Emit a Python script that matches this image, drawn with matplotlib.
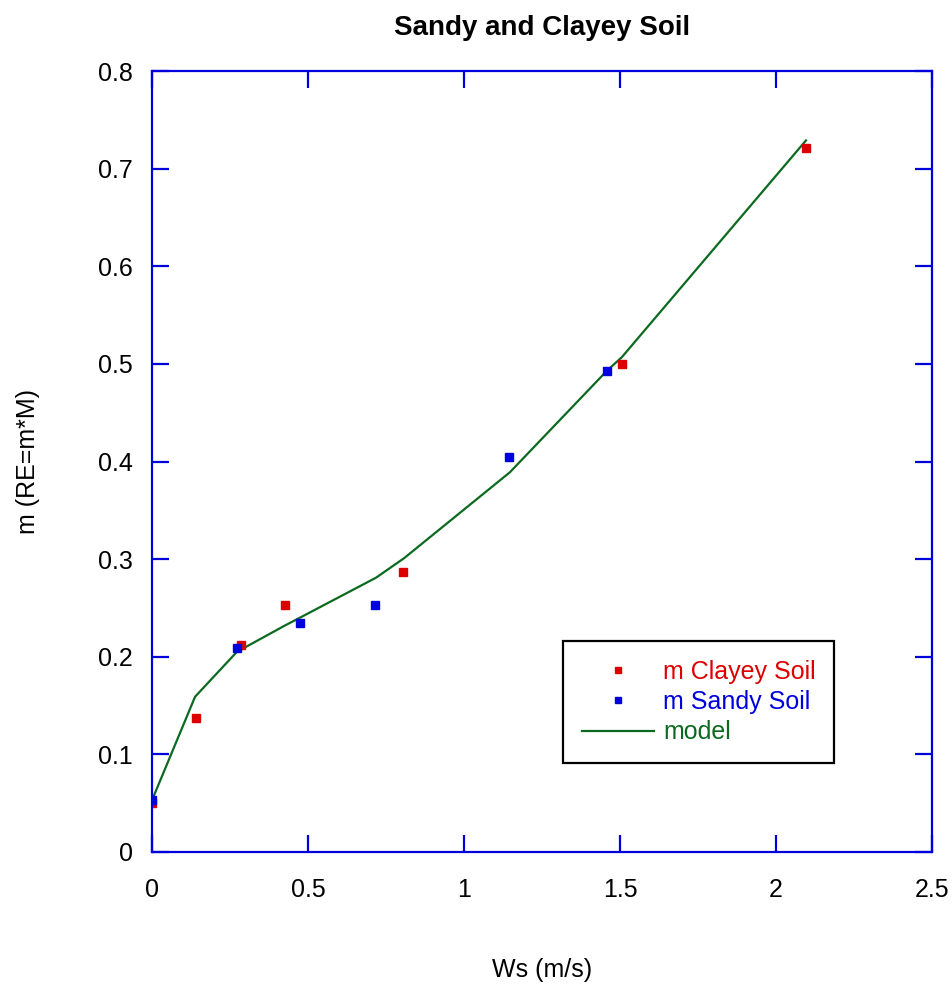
import matplotlib.pyplot as plt

plt.rcParams['font.family'] = ['Liberation Sans', 'DejaVu Sans']

ws_clayey = [0.0, 0.141, 0.285, 0.426, 0.804, 1.506, 2.096]
m_clayey = [0.050, 0.137, 0.212, 0.253, 0.287, 0.500, 0.721]
ws_sandy = [0.0, 0.272, 0.474, 0.715, 1.144, 1.458]
m_sandy = [0.053, 0.209, 0.235, 0.253, 0.405, 0.493]
ws_model = [0.0, 0.138, 0.272, 0.426, 0.474, 0.718, 0.808, 1.147, 1.458, 1.506, 2.096]
m_model = [0.053, 0.159, 0.205, 0.232, 0.240, 0.281, 0.301, 0.389, 0.493, 0.507, 0.729]

axcol = '#0000dd'
red = '#dd0000'
blue = '#0000dd'
green = '#0b6a20'

fig = plt.figure(figsize=(9.53, 9.88), dpi=100)
ax = fig.add_axes([0.1595, 0.1377, 0.8185, 0.7903])

ax.plot(ws_model, m_model, color=green, lw=1.6, label='model')
ax.plot(ws_clayey, m_clayey, 's', color=red, ms=5.8, mec=red, label='m Clayey Soil')
ax.plot(ws_sandy, m_sandy, 's', color=blue, ms=5.8, mec=blue, label='m Sandy Soil')

ax.set_xlim(0, 2.5)
ax.set_ylim(0, 0.8)
ax.set_xticks([0, 0.5, 1, 1.5, 2, 2.5])
ax.set_xticklabels(['0', '0.5', '1', '1.5', '2', '2.5'])
ax.set_yticks([0, 0.1, 0.2, 0.3, 0.4, 0.5, 0.6, 0.7, 0.8])
ax.set_yticklabels(['0', '0.1', '0.2', '0.3', '0.4', '0.5', '0.6', '0.7', '0.8'])

for s in ax.spines.values():
    s.set_color(axcol)
    s.set_linewidth(1.6)
ax.tick_params(direction='in', length=12, width=1.6, color=axcol, labelsize=18,
               top=True, right=True)
ax.tick_params(axis='x', pad=19)
ax.tick_params(axis='y', pad=14)

ax.set_title('Sandy and Clayey Soil', fontsize=20, fontweight='bold', pad=26)
ax.set_xlabel('Ws (m/s)', fontsize=18, va='center')
ax.xaxis.set_label_coords(0.5, -0.151)
ax.set_ylabel('m (RE=m*M)', fontsize=18, va='center')
ax.yaxis.set_label_coords(-0.159, 0.5)

handles, labels = ax.get_legend_handles_labels()
order = [1, 2, 0]
leg = ax.legend([handles[i] for i in order], [labels[i] for i in order],
                loc='upper left', bbox_to_anchor=(0.527, 0.270),
                fontsize=18, fancybox=False, framealpha=1, edgecolor='black',
                handlelength=2.9, handletextpad=0.35, borderpad=0.75,
                labelspacing=0.25, borderaxespad=0, markerscale=0.75)
leg.get_frame().set_linewidth(1.6)
for t, c in zip(leg.get_texts(), [red, blue, green]):
    t.set_color(c)

fig.savefig('out.png', dpi=100)
